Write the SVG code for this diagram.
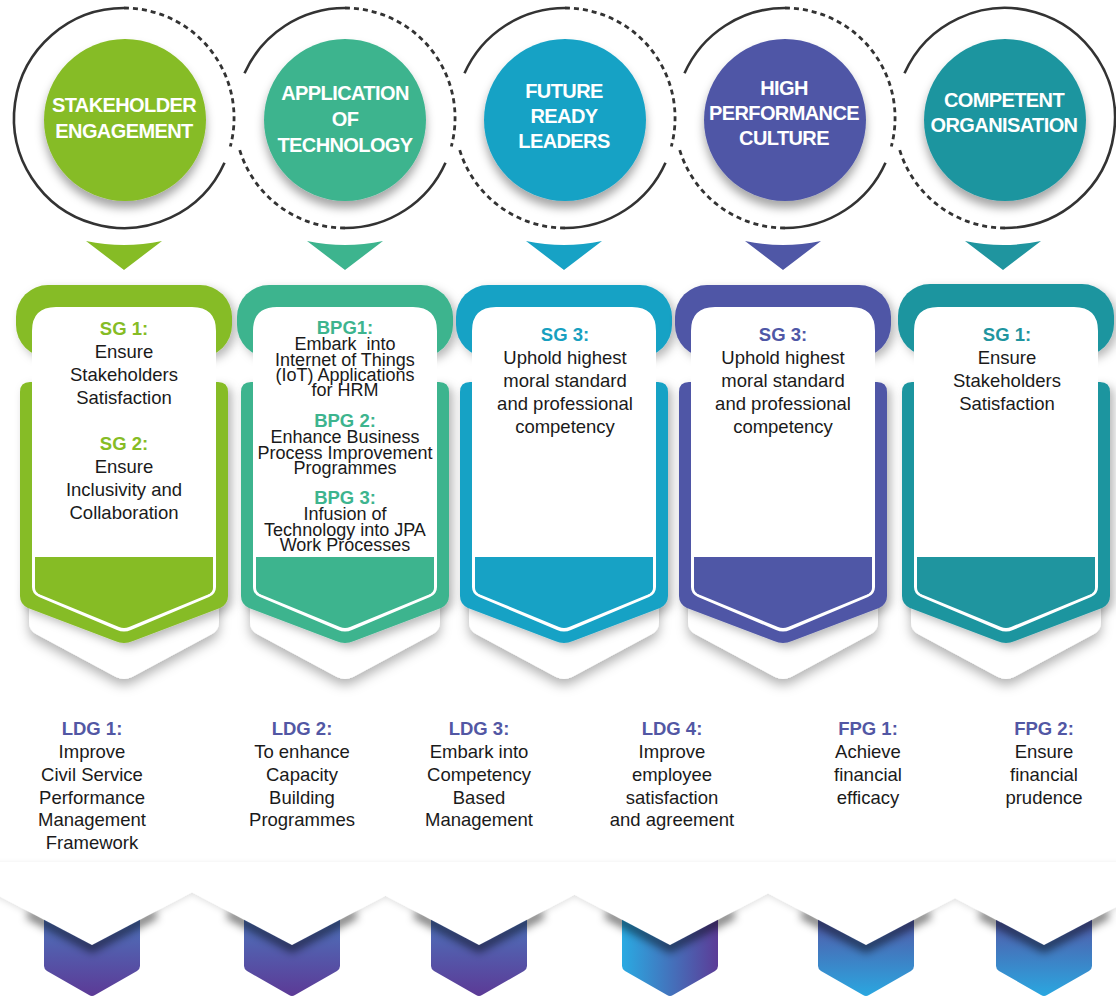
<svg xmlns="http://www.w3.org/2000/svg" width="1116" height="996" viewBox="0 0 1116 996">
<defs>
<style>
.ctx{font-family:"Liberation Sans",Arial,sans-serif;font-weight:bold;font-size:20px;fill:#fff;text-anchor:middle;letter-spacing:-0.6px}
.t{font-family:"Liberation Sans",Arial,sans-serif;font-size:18.5px;fill:#1a1a1a;text-anchor:middle}
.ts{font-family:"Liberation Sans",Arial,sans-serif;font-size:18px;fill:#1a1a1a;text-anchor:middle}
.h{font-family:"Liberation Sans",Arial,sans-serif;font-size:18.5px;font-weight:bold;text-anchor:middle}
.ring{fill:none;stroke:#333;stroke-width:2.6}
.dash{fill:none;stroke:#333;stroke-width:2.8;stroke-dasharray:5 4}
.white{fill:#fff}
.nsh{fill:none;stroke:#000;stroke-opacity:0.5;stroke-width:9}
</style>
<filter id="csh" x="-30%" y="-30%" width="160%" height="170%"><feDropShadow dx="0" dy="7" stdDeviation="5" flood-color="#000" flood-opacity="0.35"/></filter>
<filter id="ksh" x="-20%" y="-20%" width="150%" height="150%"><feDropShadow dx="4" dy="4" stdDeviation="5" flood-color="#000" flood-opacity="0.28"/></filter>
<filter id="ush" x="-20%" y="-20%" width="140%" height="160%"><feDropShadow dx="0" dy="6" stdDeviation="6" flood-color="#000" flood-opacity="0.3"/></filter>
<filter id="bsh" x="-5%" y="-30%" width="110%" height="180%"><feDropShadow dx="0" dy="2" stdDeviation="3" flood-color="#000" flood-opacity="0.12"/></filter>
<filter id="blur" x="-30%" y="-50%" width="160%" height="200%"><feGaussianBlur stdDeviation="4"/></filter>
<linearGradient id="gA" x1="0" y1="0" x2="0" y2="1"><stop offset="0" stop-color="#4A7DC2"/><stop offset="1" stop-color="#5C3A96"/></linearGradient>
<linearGradient id="gB" x1="0" y1="0" x2="1" y2="0"><stop offset="0" stop-color="#2AAAE2"/><stop offset="1" stop-color="#5C3C97"/></linearGradient>
<linearGradient id="gC" x1="0" y1="0" x2="0" y2="1"><stop offset="0" stop-color="#5A4A9E"/><stop offset="1" stop-color="#2AA7E0"/></linearGradient>
<path id="under" d="M-95,580 L95,580 L95,622 Q95,630 88,634 L8,677 Q0,681 -8,677 L-88,634 Q-95,630 -95,622 Z"/>
<path id="body" d="M-104,392 Q-104,382 -94,382 L94,382 Q104,382 104,392 L104,596 Q104,604 96,608 L9,641 Q0,645 -9,641 L-96,608 Q-104,604 -104,596 Z"/>
<path id="inner" d="M-92,331 Q-92,307 -68,307 L68,307 Q92,307 92,331 L92,587 Q92,594 85,597 L7,630 Q0,633 -7,630 L-85,597 Q-92,594 -92,587 Z"/>
<path id="band" d="M-89,557 L89,557 L89,588 Q89,592 84,594.5 L5,627 Q0,629 -5,627 L-84,594.5 Q-89,592 -89,588 Z"/>
<path id="tri" d="M-38,241 Q0,249 38,241 L0,270 Z"/>
<path id="bchev" d="M-48,905 L48,905 L48,966 Q48,969 45,971 L3,995 Q0,997 -3,995 L-45,971 Q-48,969 -48,966 Z"/>
<path id="bwhite" d="M-112,862 L112,862 L112,886 L0,945 L-112,886 Z"/>
<path id="notch" d="M-64,912 L0,946 L64,912"/>
</defs>
<rect width="1116" height="996" fill="#fff"/>

<g id="rings">
<path class="dash" d="M124,8 A110,110 0 0 1 230.3,146.5"/>
<path class="ring" d="M224.5,162.7 A110,110 0 1 1 124,8"/>
<path class="ring" d="M244.5,73.3 A110,110 0 0 1 345,8"/>
<path class="dash" d="M345,8 A110,110 0 0 1 451.3,146.5"/>
<path class="ring" d="M445.5,162.7 A110,110 0 0 1 345,228"/>
<path class="dash" d="M345,228 A110,110 0 0 1 238.7,146.5"/>
<path class="ring" d="M464.5,73.3 A110,110 0 0 1 565,8"/>
<path class="dash" d="M565,8 A110,110 0 0 1 671.3,146.5"/>
<path class="ring" d="M665.5,162.7 A110,110 0 0 1 565,228"/>
<path class="dash" d="M565,228 A110,110 0 0 1 458.7,146.5"/>
<path class="ring" d="M684.5,73.3 A110,110 0 0 1 785,8"/>
<path class="dash" d="M785,8 A110,110 0 0 1 891.3,146.5"/>
<path class="ring" d="M885.5,162.7 A110,110 0 0 1 785,228"/>
<path class="dash" d="M785,228 A110,110 0 0 1 678.7,146.5"/>
<path class="ring" d="M904.5,73.3 A110,110 0 1 1 1005,228"/>
<path class="dash" d="M1005,228 A110,110 0 0 1 898.7,146.5"/>
</g>

<g id="circle-stakeholder">
<circle cx="125" cy="120" r="81" fill="#86BC25" filter="url(#csh)"/>
<text class="ctx" x="124" y="112">STAKEHOLDER</text>
<text class="ctx" x="124" y="138">ENGAGEMENT</text>
</g>
<g id="circle-technology">
<circle cx="345" cy="120" r="81" fill="#3DB48E" filter="url(#csh)"/>
<text class="ctx" x="345" y="100">APPLICATION</text>
<text class="ctx" x="345" y="126">OF</text>
<text class="ctx" x="345" y="152">TECHNOLOGY</text>
</g>
<g id="circle-leaders">
<circle cx="565" cy="120" r="81" fill="#17A2C5" filter="url(#csh)"/>
<text class="ctx" x="564" y="98">FUTURE</text>
<text class="ctx" x="564" y="123">READY</text>
<text class="ctx" x="564" y="148">LEADERS</text>
</g>
<g id="circle-culture">
<circle cx="785" cy="120" r="81" fill="#4F57A6" filter="url(#csh)"/>
<text class="ctx" x="784" y="95">HIGH</text>
<text class="ctx" x="784" y="120">PERFORMANCE</text>
<text class="ctx" x="784" y="145">CULTURE</text>
</g>
<g id="circle-organisation">
<circle cx="1005" cy="120" r="81" fill="#1F959F" filter="url(#csh)"/>
<text class="ctx" x="1004" y="107">COMPETENT</text>
<text class="ctx" x="1004" y="132">ORGANISATION</text>
</g>

<g id="connectors">
<use href="#tri" x="124" fill="#86BC25"/>
<use href="#tri" x="345" fill="#3DB48E"/>
<use href="#tri" x="564" fill="#17A2C5"/>
<use href="#tri" x="783" fill="#4F57A6"/>
<use href="#tri" x="1003" fill="#1F959F"/>
</g>

<g id="card-1">
<use href="#under" x="124" class="white" filter="url(#ush)"/>
<rect x="16" y="285" width="216" height="72" rx="32" fill="#86BC25" filter="url(#ksh)"/>
<use href="#body" x="124" fill="#86BC25" filter="url(#ksh)"/>
<use href="#inner" x="124" class="white"/>
<use href="#band" x="124" fill="#86BC25"/>
<text class="h" x="124" y="335" fill="#86BC25">SG 1:</text>
<text class="t" x="124" y="358">Ensure</text>
<text class="t" x="124" y="381">Stakeholders</text>
<text class="t" x="124" y="404">Satisfaction</text>
<text class="h" x="124" y="450" fill="#86BC25">SG 2:</text>
<text class="t" x="124" y="473">Ensure</text>
<text class="t" x="124" y="496">Inclusivity and</text>
<text class="t" x="124" y="519">Collaboration</text>
</g>

<g id="card-2">
<use href="#under" x="345" class="white" filter="url(#ush)"/>
<rect x="237" y="285" width="216" height="72" rx="32" fill="#3DB48E" filter="url(#ksh)"/>
<use href="#body" x="345" fill="#3DB48E" filter="url(#ksh)"/>
<use href="#inner" x="345" class="white"/>
<use href="#band" x="345" fill="#3DB48E"/>
<text class="h" x="345" y="334" fill="#3DB48E">BPG1:</text>
<text class="ts" x="345" y="350" xml:space="preserve">Embark  into</text>
<text class="ts" x="345" y="366">Internet of Things</text>
<text class="ts" x="345" y="381">(IoT) Applications</text>
<text class="ts" x="345" y="396">for HRM</text>
<text class="h" x="345" y="427" fill="#3DB48E">BPG 2:</text>
<text class="ts" x="345" y="443">Enhance Business</text>
<text class="ts" x="345" y="459">Process Improvement</text>
<text class="ts" x="345" y="474">Programmes</text>
<text class="h" x="345" y="504" fill="#3DB48E">BPG 3:</text>
<text class="ts" x="345" y="520">Infusion of</text>
<text class="ts" x="345" y="536">Technology into JPA</text>
<text class="ts" x="345" y="551">Work Processes</text>
</g>

<g id="card-3">
<use href="#under" x="564" class="white" filter="url(#ush)"/>
<rect x="456" y="285" width="216" height="72" rx="32" fill="#17A2C5" filter="url(#ksh)"/>
<use href="#body" x="564" fill="#17A2C5" filter="url(#ksh)"/>
<use href="#inner" x="564" class="white"/>
<use href="#band" x="564" fill="#17A2C5"/>
<text class="h" x="565" y="341" fill="#17A0C0">SG 3:</text>
<text class="t" x="565" y="364">Uphold highest</text>
<text class="t" x="565" y="387">moral standard</text>
<text class="t" x="565" y="410">and professional</text>
<text class="t" x="565" y="433">competency</text>
</g>

<g id="card-4">
<use href="#under" x="783" class="white" filter="url(#ush)"/>
<rect x="675" y="285" width="216" height="72" rx="32" fill="#4F57A6" filter="url(#ksh)"/>
<use href="#body" x="783" fill="#4F57A6" filter="url(#ksh)"/>
<use href="#inner" x="783" class="white"/>
<use href="#band" x="783" fill="#4F57A6"/>
<text class="h" x="783" y="341" fill="#4F57A6">SG 3:</text>
<text class="t" x="783" y="364">Uphold highest</text>
<text class="t" x="783" y="387">moral standard</text>
<text class="t" x="783" y="410">and professional</text>
<text class="t" x="783" y="433">competency</text>
</g>

<g id="card-5">
<use href="#under" x="1006" class="white" filter="url(#ush)"/>
<rect x="898" y="284" width="216" height="72" rx="32" fill="#1F959F" filter="url(#ksh)"/>
<use href="#body" x="1006" fill="#1F959F" filter="url(#ksh)"/>
<use href="#inner" x="1006" class="white"/>
<use href="#band" x="1006" fill="#1F959F"/>
<text class="h" x="1007" y="341" fill="#1F959F">SG 1:</text>
<text class="t" x="1007" y="364">Ensure</text>
<text class="t" x="1007" y="387">Stakeholders</text>
<text class="t" x="1007" y="410">Satisfaction</text>
</g>

<g id="goal-ldg1">
<text class="h" x="92" y="735" fill="#5257A4">LDG 1:</text>
<text class="t" x="92" y="758">Improve</text>
<text class="t" x="92" y="781">Civil Service</text>
<text class="t" x="92" y="803.5">Performance</text>
<text class="t" x="92" y="826">Management</text>
<text class="t" x="92" y="849">Framework</text>
</g>
<g id="goal-ldg2">
<text class="h" x="302" y="735" fill="#5257A4">LDG 2:</text>
<text class="t" x="302" y="758">To enhance</text>
<text class="t" x="302" y="781">Capacity</text>
<text class="t" x="302" y="803.5">Building</text>
<text class="t" x="302" y="826">Programmes</text>
</g>
<g id="goal-ldg3">
<text class="h" x="479" y="735" fill="#5257A4">LDG 3:</text>
<text class="t" x="479" y="758">Embark into</text>
<text class="t" x="479" y="781">Competency</text>
<text class="t" x="479" y="803.5">Based</text>
<text class="t" x="479" y="826">Management</text>
</g>
<g id="goal-ldg4">
<text class="h" x="672" y="735" fill="#5257A4">LDG 4:</text>
<text class="t" x="672" y="758">Improve</text>
<text class="t" x="672" y="781">employee</text>
<text class="t" x="672" y="803.5">satisfaction</text>
<text class="t" x="672" y="826">and agreement</text>
</g>
<g id="goal-fpg1">
<text class="h" x="868" y="735" fill="#5257A4">FPG 1:</text>
<text class="t" x="868" y="758">Achieve</text>
<text class="t" x="868" y="781">financial</text>
<text class="t" x="868" y="803.5">efficacy</text>
</g>
<g id="goal-fpg2">
<text class="h" x="1044" y="735" fill="#5257A4">FPG 2:</text>
<text class="t" x="1044" y="758">Ensure</text>
<text class="t" x="1044" y="781">financial</text>
<text class="t" x="1044" y="803.5">prudence</text>
</g>

<g id="bottom-chevrons">
<use href="#bchev" x="92" fill="url(#gA)"/>
<use href="#bchev" x="292" fill="url(#gA)"/>
<use href="#bchev" x="479" fill="url(#gA)"/>
<use href="#bchev" x="670" fill="url(#gB)"/>
<use href="#bchev" x="866" fill="url(#gC)"/>
<use href="#bchev" x="1044" fill="url(#gC)"/>
<g filter="url(#blur)">
<use href="#notch" x="92" y="2" class="nsh"/>
<use href="#notch" x="292" y="2" class="nsh"/>
<use href="#notch" x="479" y="2" class="nsh"/>
<use href="#notch" x="670" y="2" class="nsh"/>
<use href="#notch" x="866" y="2" class="nsh"/>
<use href="#notch" x="1044" y="2" class="nsh"/>
</g>
<g filter="url(#bsh)" class="white">
<rect x="-20" y="864" width="1160" height="24"/>
<use href="#bwhite" x="92"/>
<use href="#bwhite" x="292"/>
<use href="#bwhite" x="479"/>
<use href="#bwhite" x="670"/>
<use href="#bwhite" x="866"/>
<use href="#bwhite" x="1044"/>
</g>
</g>
</svg>
